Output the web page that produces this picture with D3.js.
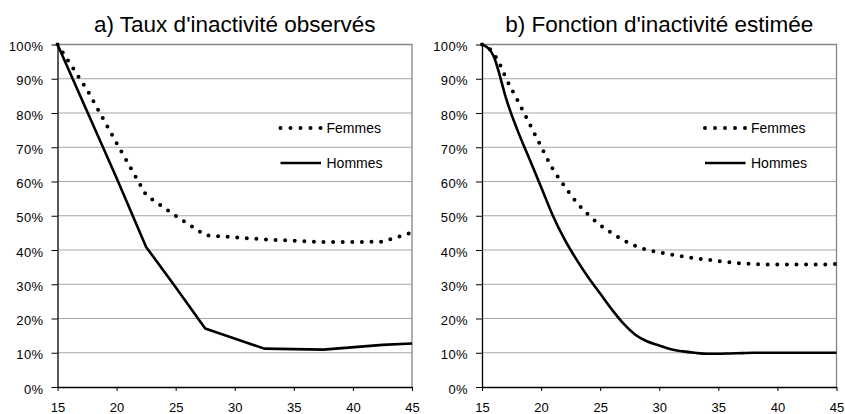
<!DOCTYPE html>
<html>
<head>
<meta charset="utf-8">
<script src="https://cdn.jsdelivr.net/npm/d3@7"></script>
<style>
  body { margin: 0; background: #fff; }
  svg { display: block; font-family: "Liberation Sans", Arial, sans-serif; }
</style>
</head>
<body>
<div id="chart"></div>
<script>
// data (percent inactive by age)
var xTicks = [15, 20, 25, 30, 35, 40, 45];
var yTicks = [0, 10, 20, 30, 40, 50, 60, 70, 80, 90, 100];
var seriesNames = ["Femmes", "Hommes"];

// a) observed rates
var agesObs = [15, 17.5, 20, 22.5, 25, 27.5, 32.5, 37.5, 42.5, 45];
var femmesObs = [100, 86.8, 71.2, 56.0, 50.0, 44.3, 43.1, 42.3, 42.4, 45.1];
var hommesObs = [100, 80.5, 61.0, 40.9, 29.1, 17.1, 11.2, 10.9, 12.3, 12.7];

// b) estimated function
var agesEst = [15, 15.5, 16, 16.5, 17, 18, 19, 20, 21, 22, 23, 24, 25, 26, 27, 28, 29, 30,
               31, 32, 33, 34, 35, 36, 37, 38, 39, 40, 41, 42, 43, 44, 45];
var femmesEst = [100, 99.2, 97.2, 94.3, 90.4, 83.8, 77.0, 70.2, 63.6, 58.6, 53.9, 50.3, 47.3, 44.9, 42.8,
                 41.2, 40.0, 39.3, 38.7, 38.1, 37.6, 37.2, 36.8, 36.4, 36.1,
                 35.9, 35.8, 35.8, 35.8, 35.8, 35.8, 35.8, 35.9];
var hommesEst = [100, 99.0, 96.5, 91.0, 84.7, 75.0, 66.7, 58.4, 50.0, 43.0, 37.2, 32.0, 27.3, 22.6, 18.4,
                 15.2, 13.3, 12.1, 11.0, 10.4, 10.0, 9.7, 9.7, 9.8, 9.9,
                 10.0, 10.0, 10.0, 10.0, 10.0, 10.0, 10.0, 10.0];

var W = 845, H = 414;

var svg = d3.select("#chart")
  .append("svg")
    .attr("width", W)
    .attr("height", H);

var panels = [
  {title: "a) Taux d'inactivité observés", left: 57.5, right: 412, ages: agesObs,
   femmes: femmesObs, hommes: hommesObs, curve: d3.curveLinear},
  {title: "b) Fonction d'inactivité estimée", left: 482, right: 836.5, ages: agesEst,
   femmes: femmesEst, hommes: hommesEst, curve: d3.curveMonotoneX}
];

var plotTop = 44.5, plotBottom = 387;

panels.forEach(function (p) {
  var g = svg.append("g");

  var x = d3.scaleLinear().domain([15, 45]).range([p.left, p.right]);
  var y = d3.scaleLinear().domain([0, 100]).range([plotBottom, plotTop]);

  // gridlines
  g.selectAll(".grid")
    .data(yTicks.filter(d => d > 0 && d < 100))
    .enter().append("line")
      .attr("x1", p.left).attr("x2", p.right)
      .attr("y1", d => y(d)).attr("y2", d => y(d))
      .style("stroke", "#a6a6a6")
      .style("stroke-width", 1);

  // top and right border
  g.append("path")
    .attr("d", "M" + p.left + "," + y(100) + "H" + p.right + "V" + y(0))
    .style("fill", "none")
    .style("stroke", "#868686")
    .style("stroke-width", 1.3);

  // y axis
  var yAxis = g.append("g")
    .attr("transform", "translate(" + p.left + ",0)")
    .call(d3.axisLeft(y).tickValues(yTicks).tickSize(6).tickPadding(8)
      .tickFormat(d => d + "%").tickSizeOuter(0));
  yAxis.select(".domain").style("stroke", "#000").style("stroke-width", 1.3);
  yAxis.selectAll(".tick line").style("stroke", "#000");
  yAxis.selectAll("text")
    .attr("dy", "0.4em")
    .attr("y", 1)
    .style("font-size", "13px")
    .style("letter-spacing", "0.4px")
    .style("fill", "#000")
    .style("font-family", "'Liberation Sans', Arial, sans-serif");

  // x axis
  var xAxis = g.append("g")
    .attr("transform", "translate(0," + plotBottom + ")")
    .call(d3.axisBottom(x).tickValues(xTicks).tickSize(4).tickPadding(12)
      .tickSizeOuter(0));
  xAxis.select(".domain").style("stroke", "#000").style("stroke-width", 1.3);
  xAxis.selectAll(".tick line").style("stroke", "#000");
  xAxis.selectAll("text")
    .style("font-size", "13px")
    .style("fill", "#000")
    .style("font-family", "'Liberation Sans', Arial, sans-serif");

  // title
  g.append("text")
    .attr("x", (p.left + p.right) / 2)
    .attr("y", 31.5)
    .attr("text-anchor", "middle")
    .style("font-size", "22.5px")
    .text(p.title);

  var line = d3.line()
    .x(d => x(d[0]))
    .y(d => y(d[1]))
    .curve(p.curve);

  // Femmes: round dots
  g.append("path")
    .datum(d3.zip(p.ages, p.femmes))
    .attr("d", line)
    .style("fill", "none")
    .style("stroke", "#000")
    .style("stroke-width", 4)
    .style("stroke-linecap", "round")
    .style("stroke-dasharray", "0 9.6");

  // Hommes: solid
  g.append("path")
    .datum(d3.zip(p.ages, p.hommes))
    .attr("d", line)
    .style("fill", "none")
    .style("stroke", "#000")
    .style("stroke-width", 2.6)
    .style("stroke-linejoin", "round");

  // legend
  var lx = p.left + 222;
  var legend = g.selectAll(".legend")
    .data(seriesNames)
    .enter().append("g")
      .attr("class", "legend")
      .attr("transform", (d, i) => "translate(" + lx + "," + (128 + i * 35) + ")");

  legend.append("line")
    .attr("x1", 1).attr("x2", 41.5)
    .attr("y1", 0).attr("y2", 0)
    .style("stroke", "#000")
    .style("stroke-width", d => d === "Femmes" ? 4 : 2.6)
    .style("stroke-linecap", d => d === "Femmes" ? "round" : "butt")
    .style("stroke-dasharray", d => d === "Femmes" ? "0 10" : null);

  legend.append("text")
    .attr("x", 47)
    .attr("y", 0)
    .attr("dy", "0.36em")
    .style("font-size", "14px")
    .text(d => d);
});
</script>
</body>
</html>
